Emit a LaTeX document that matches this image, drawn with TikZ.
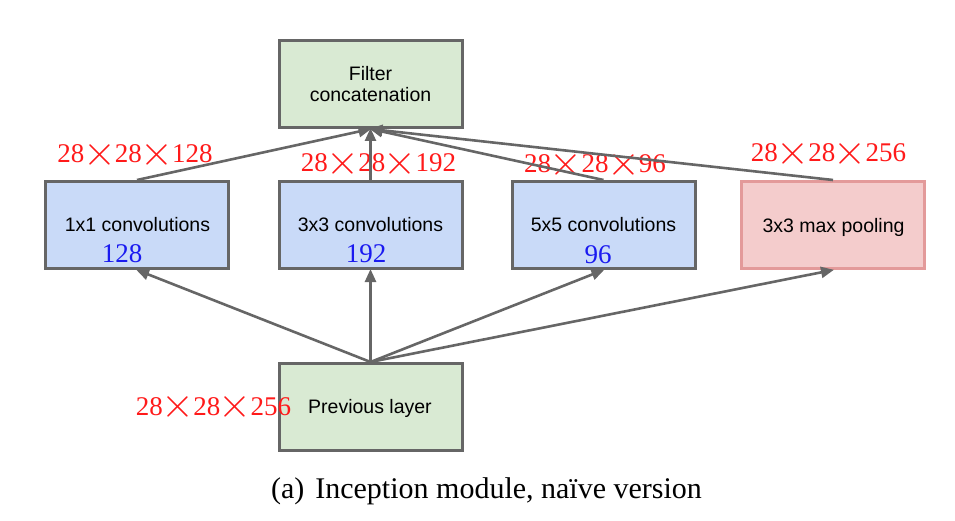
\documentclass[tikz,border=0pt]{standalone}
\usepackage{fontspec}
\usepackage{graphicx}
\setmainfont{Liberation Serif}
\newfontfamily\boxfont{Liberation Sans}
\usetikzlibrary{arrows.meta}
\definecolor{gline}{HTML}{666666}
\definecolor{gfill}{HTML}{D9EAD3}
\definecolor{bfill}{HTML}{C9DAF8}
\definecolor{pfill}{HTML}{F4CCCC}
\definecolor{pline}{HTML}{E39A9A}
\definecolor{redlab}{HTML}{FF1A1A}
\definecolor{bluelab}{HTML}{1A1AF0}
\newcommand\bigx{\kern-1.3pt\raisebox{-2.4pt}{\scalebox{1.7}{$\times$}}\kern-1.3pt}
\tikzset{
  layerbox/.style={draw=gline, line width=3pt, minimum width=183pt, minimum height=87pt, inner sep=0pt},
  greenbox/.style={layerbox, fill=gfill},
  bluebox/.style={layerbox, fill=bfill},
  pinkbox/.style={layerbox, draw=pline, fill=pfill},
  boxtxt/.style={anchor=base, inner sep=0pt, font=\boxfont\fontsize{19.5}{23}\selectfont},
  numtxt/.style={anchor=base, inner sep=0pt, text=bluelab, font=\fontsize{27}{27}\selectfont},
  dimtxt/.style={anchor=base, inner sep=0pt, text=redlab, font=\fontsize{27}{27}\selectfont},
  conn/.style={draw=gline, line width=2.6pt, -{Triangle[length=13pt,width=11pt]}, shorten >=-1pt}
}
\begin{document}
\begin{tikzpicture}[x=1pt,y=-1pt]
\useasboundingbox (0,0) rectangle (955,521);
% boxes
\node[greenbox] (concat) at (370.5,84) {};
\node[bluebox] (c1) at (137,225) {};
\node[bluebox] (c3) at (370.5,225) {};
\node[bluebox] (c5) at (603.5,225) {};
\node[pinkbox] (pool) at (833,225) {};
\node[greenbox] (prev) at (370.5,407) {};
% box texts
\node[boxtxt] (t0a) at (370.5,81) {Filter};
\node[boxtxt] (t0b) at (370.5,102) {concatenation};
\node[boxtxt] (t1) at (137.5,232) {1x1 convolutions};
\node[boxtxt] (t3) at (370.5,232) {3x3 convolutions};
\node[boxtxt] (t5) at (603.5,232) {5x5 convolutions};
\node[boxtxt] (tp) at (833.5,233) {3x3 max pooling};
\node[boxtxt] (tv) at (370,413) {Previous layer};
% blue numbers
\node[numtxt] (n1) at (122,262) {128};
\node[numtxt] (n3) at (366,262) {192};
\node[numtxt] (n5) at (598,263) {96};
% red dimension labels
\node[dimtxt] (d1) at (135,163) {28\bigx28\bigx128};
\node[dimtxt] (d3) at (378.5,172) {28\bigx28\bigx192};
\node[dimtxt] (d5) at (595,173) {28\bigx28\bigx96};
\node[dimtxt] (d4) at (828.5,162) {28\bigx28\bigx256};
\node[dimtxt] (dp) at (213.5,415) {28\bigx28\bigx256};
% connectors
\draw[conn] (c1.north) -- (concat.south);
\draw[conn] (c3.north) -- (concat.south);
\draw[conn] (c5.north) -- (concat.south);
\draw[conn] (pool.north) -- (concat.south);
\draw[conn] (prev.north) -- (c1.south);
\draw[conn] (prev.north) -- (c3.south);
\draw[conn] (prev.north) -- (c5.south);
\draw[conn] (prev.north) -- (pool.south);
% caption
\node[anchor=base, inner sep=0pt, font=\fontsize{30}{30}\selectfont] (cap) at (486.5,498) {(a)\hspace{11pt}Inception module, naïve version};
\end{tikzpicture}
\end{document}
